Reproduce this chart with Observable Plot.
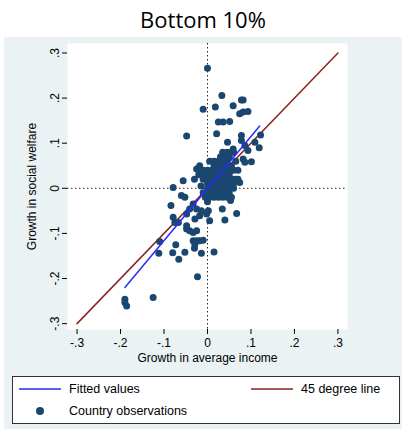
<!DOCTYPE html>
<html><head><meta charset="utf-8">
<script src="https://cdn.jsdelivr.net/npm/d3@7"></script>
<script src="https://cdn.jsdelivr.net/npm/@observablehq/plot@0.6"></script>
<style>
body{margin:0;background:#fff;font-family:Arial,"Liberation Sans",sans-serif;}
#title{height:37px;text-align:center;font:22px "Open Sans",Calibri,sans-serif;line-height:38px;}
#graph{position:absolute;left:4px;top:37px;width:398px;height:392px;background:#eaf2f3;}
#legend{position:absolute;left:8px;top:339px;width:386px;height:46px;background:#fff;border:1px solid #333;font-size:12.5px;}
</style></head><body>
<div id="title">Bottom 10%</div>
<div id="graph"><div id="chart"></div>
<div id="legend"><svg width="386" height="46">
<line x1="6" x2="48" y1="12" y2="12" stroke="#2a2aff" stroke-width="1.5"/><text x="56" y="16">Fitted values</text>
<line x1="238" x2="280" y1="12" y2="12" stroke="#8b2323" stroke-width="1.5"/><text x="288" y="16">45 degree line</text>
<circle cx="27" cy="34" r="4" fill="#1a476f"/><text x="56" y="38">Country observations</text>
</svg></div></div>
<script>
const obsX = [0,.033,-.01,.018,.059,.078,.082,.074,.082,.093,.025,.036,.051,-.048,.021,.046,.078,.078,.122,.119,.109,.086,.093,.059,.082,.086,.101,-.025,-.018,-.056,.074,-.079,-.06,-.052,-.084,.053,.034,.067,.04,-.033,-.025,-.014,.002,-.002,.005,-.029,-.018,-.079,-.075,-.067,-.048,-.041,-.048,-.048,-.041,-.033,-.025,-.033,-.025,-.018,-.01,-.029,-.11,-.073,-.112,-.08,-.052,-.066,-.03,-.014,.015,-.023,-.125,-.19,-.19,-.186,
 .0,.01,.02,.03,.04,.05,.06,.0,.01,.02,.03,.04,.05,.06,-.01,.0,.01,.02,.03,.04,.05,.06,.07,-.02,-.01,.0,.01,.02,.03,.04,.05,-.02,-.01,.0,.01,.02,.03,.04,.05,.06,-.01,.0,.01,.02,.03,.04,.05,.015,.025,.035,.045,.055,.005,.015,.025,.035,.045,-.005,.005,.015,.025,.035,.045,.055,.065,.03,.04,.05,.06,.035,.045,.055,-.015,-.03,.0,.07,.065];
const obsY = [.266,.206,.175,.18,.183,.196,.196,.165,.169,.17,.147,.147,.148,.116,.121,.102,.117,.106,.118,.09,.102,.095,.084,.087,.065,.058,.059,.043,.05,.017,.013,.002,-.016,-.02,-.038,-.027,-.046,-.056,-.07,-.035,-.046,-.05,-.05,-.057,-.072,-.068,-.061,-.064,-.076,-.076,-.057,-.046,-.083,-.09,-.094,-.098,-.094,-.116,-.116,-.116,-.115,-.124,-.118,-.125,-.144,-.143,-.142,-.157,-.133,-.144,-.141,-.196,-.242,-.246,-.253,-.261,
 .0,.0,.0,.0,.0,.0,.0,.01,.01,.01,.01,.01,.01,.01,.02,.02,.02,.02,.02,.02,.02,.02,.02,.03,.03,.03,.03,.03,.03,.03,.03,.04,.04,.04,.04,.04,.04,.04,.04,.04,-.01,-.01,-.01,-.01,-.01,-.01,-.01,.05,.05,.05,.05,.05,.06,.06,.06,.06,.06,-.02,-.02,-.02,-.02,-.02,-.02,-.02,.02,.07,.07,.07,.08,.08,.08,.08,.005,.02,-.03,.04,.06];
const obs = obsX.map((x, i) => ({x, y: obsY[i]}));
const fitX = [-.19, .12], fitY = [-.22, .138];
const diagV = [-.3, .3];
const ticks = [-.3, -.2, -.1, 0, .1, .2, .3];
const fmt = d => d === 0 ? "0" : d.toFixed(1).replace("0.", ".");
const chart = Plot.plot({
  width: 398, height: 336,
  marginLeft: 63, marginRight: 55, marginTop: 6, marginBottom: 44,
  style: {background: "transparent", fontSize: "12px", fontFamily: "Arial, sans-serif"},
  x: {domain: [-.322, .322]},
  y: {domain: [-.313, .321]},
  marks: [
    Plot.frame({fill: "white", stroke: "none"}),
    Plot.ruleX([0], {stroke: "#222", strokeDasharray: "1.5,2.5"}),
    Plot.ruleY([0], {stroke: "#222", strokeDasharray: "1.5,2.5"}),
    Plot.line(diagV.map(v => ({x: v, y: v})), {x: "x", y: "y", stroke: "#8b2323", strokeWidth: 1.5}),
    Plot.dot(obs, {x: "x", y: "y", r: 3.5, fill: "#1a476f"}),
    Plot.line(fitX.map((x, i) => ({x, y: fitY[i]})), {x: "x", y: "y", stroke: "#2a2aff", strokeWidth: 1.5}),
    Plot.axisX({ticks, tickFormat: fmt, label: "Growth in average income", labelArrow: "none", labelAnchor: "center", labelOffset: 32, tickSize: 5, fontSize: 12}),
    Plot.axisY({ticks, tickFormat: fmt, label: "Growth in social welfare", labelArrow: "none", labelAnchor: "center", labelOffset: 40, tickRotate: -90, tickSize: 5, fontSize: 12})
  ]
});
d3.select('#chart').append(() => chart);
</script></body></html>
